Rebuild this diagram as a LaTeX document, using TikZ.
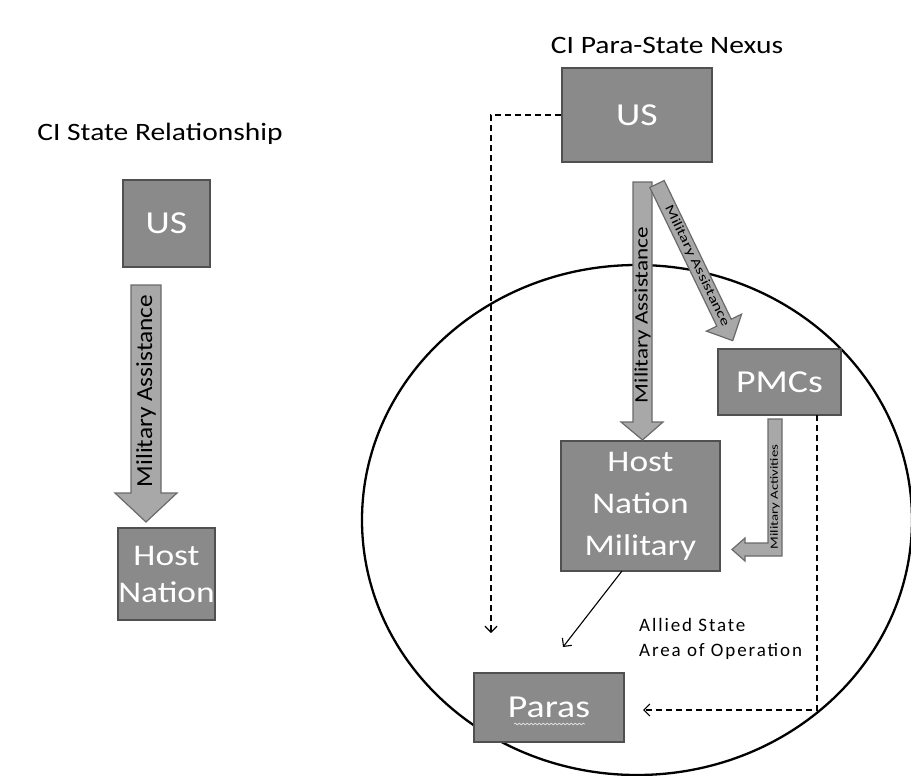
\documentclass[tikz,border=0pt]{standalone}
\usepackage{fontspec}
\setmainfont{Carlito}
\newfontfamily\widefont[LetterSpace=10]{Carlito}
\usetikzlibrary{arrows.meta,calc,decorations.pathmorphing}
\definecolor{boxfill}{HTML}{8A8A8A}
\definecolor{boxedge}{HTML}{505050}
\definecolor{arrowfill}{HTML}{A8A8A8}
\definecolor{arrowedge}{HTML}{6A6A6A}
\newcommand{\hs}[1]{\scalebox{1.18}[1]{#1}}
\begin{document}
\begin{tikzpicture}[x=1pt,y=-1pt,
  box/.style={draw=boxedge, fill=boxfill, line width=2pt, text=white, inner sep=0pt, align=center},
  blockarrow/.style={draw=arrowedge, fill=arrowfill, line width=1.2pt, line join=miter},
  dashconn/.style={dash pattern=on 6pt off 4pt, line width=1.3pt, -{Straight Barb[length=6pt,width=12pt,line width=1.2pt]}},
  solidconn/.style={line width=1.1pt, -{Straight Barb[length=6pt,width=12pt,line width=1.1pt]}},
  title/.style={font=\fontsize{25}{30}\selectfont, text=black, inner sep=0pt},
  arrowtext/.style={text=black, inner sep=0pt}
]
\useasboundingbox (0,0) rectangle (911,776);

% area of operation
\draw[line width=2.3pt] (637,520) ellipse [x radius=275, y radius=255];

% titles
\node[title] (t1) at (160,134) {\hs{CI State Relationship}};
\node[title] (t2) at (667,45) {\hs{CI Para-State Nexus}};

% left diagram
\node[box, minimum width=87pt, minimum height=87pt, font=\fontsize{32}{38}\selectfont] (usL) at (166.5,223.5) {\hs{US}};
\node[box, minimum width=97pt, minimum height=92pt, font=\fontsize{30}{37}\selectfont] (hnL) at (166.5,574) {\hs{Host}\\\hs{Nation}};
\draw[blockarrow] (131,285) -- (161,285) -- (161,493) -- (177,493) -- (146,522) -- (115,493) -- (131,493) -- cycle;
\node[arrowtext, rotate=90, font=\fontsize{23}{28}\selectfont] (maL) at (146,391) {\scalebox{1.1}[1]{Military Assistance}};

% right diagram
\node[box, minimum width=150pt, minimum height=94pt, font=\fontsize{32}{38}\selectfont] (usR) at (637,115) {\hs{US}};
\node[box, minimum width=123pt, minimum height=66pt, font=\fontsize{32}{38}\selectfont] (pmc) at (779.5,382) {\hs{PMCs}};
\node[box, minimum width=159pt, minimum height=130pt, font=\fontsize{30}{42}\selectfont] (hnm) at (640.5,506) {\hs{Host}\\\hs{Nation}\\\hs{Military}};
\node[box, minimum width=150pt, minimum height=69pt, font=\fontsize{32}{38}\selectfont] (paras) at (549,707.5) {\hs{Paras}};
\draw[white!85!black, line width=0.8pt, decorate, decoration={snake, amplitude=0.9pt, segment length=4pt}] (514,724) -- (585,724);

% vertical military assistance arrow
\draw[blockarrow] (633,182) -- (652,182) -- (652,422) -- (663,422) -- (642.5,440) -- (621,422) -- (633,422) -- cycle;
\node[arrowtext, rotate=90, font=\fontsize{19}{23}\selectfont] (maR) at (642.5,315) {\scalebox{1.22}[1]{Military Assistance}};

% diagonal military assistance arrow
\begin{scope}[shift={(657,184)}, rotate=-64.2]
  \draw[blockarrow] (0,-8) -- (154,-8) -- (154,-19.5) -- (174,0) -- (154,19.5) -- (154,8) -- (0,8) -- cycle;
\end{scope}
\node[arrowtext, rotate=-64.2, font=\fontsize{13}{15}\selectfont] (maD) at (697,266) {\scalebox{1.35}[1]{Military Assistance}};

% military activities bent arrow
\draw[blockarrow] (768,419) -- (782,419) -- (782,556) -- (745,556) -- (745,561) -- (732,549.5) -- (745,538) -- (745,543) -- (768,543) -- cycle;
\node[arrowtext, rotate=90, font=\fontsize{11}{13}\selectfont] (mact) at (775,497) {\scalebox{1.35}[1]{Military Activities}};

% area label
\node[anchor=west, align=left, inner sep=0pt, font=\widefont\fontsize{19}{25}\selectfont] (area) at (639,638.5) {Allied State\\Area of Operation};

% connectors
\coordinate (usEnd) at (491,633);
\coordinate (pmcOut) at (817,415);
\coordinate (parasIn) at (643,710);
\coordinate (hnmOut) at (622,571);
\coordinate (hnmEnd) at (563,647);
\draw[dashconn] (usR.west) -| (usEnd);
\draw[dashconn] (pmcOut) |- (parasIn);
\draw[solidconn] (hnmOut) -- (hnmEnd);
\end{tikzpicture}
\end{document}
